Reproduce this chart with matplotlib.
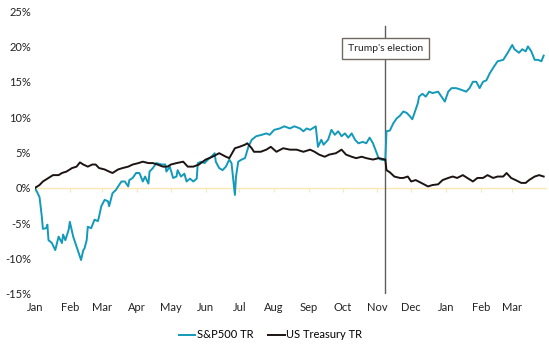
import matplotlib
matplotlib.use("Agg")
import matplotlib.pyplot as plt
import matplotlib.dates as mdates
import pandas as pd

# ---- data ----
spx_dates = [
    "2016-01-01", "2016-01-05", "2016-01-07", "2016-01-08", "2016-01-11", "2016-01-12", "2016-01-13",
    "2016-01-16", "2016-01-19", "2016-01-22", "2016-01-25", "2016-01-26", "2016-01-28", "2016-01-31",
    "2016-02-01", "2016-02-03", "2016-02-04", "2016-02-07", "2016-02-09", "2016-02-11", "2016-02-13",
    "2016-02-14", "2016-02-16", "2016-02-17", "2016-02-20", "2016-02-23", "2016-02-26", "2016-02-27",
    "2016-02-29", "2016-03-03", "2016-03-06", "2016-03-07", "2016-03-10", "2016-03-13", "2016-03-15",
    "2016-03-18", "2016-03-21", "2016-03-24", "2016-03-25", "2016-03-28", "2016-03-31", "2016-04-03",
    "2016-04-06", "2016-04-08", "2016-04-11", "2016-04-12", "2016-04-15", "2016-04-18", "2016-04-23",
    "2016-04-26", "2016-04-27", "2016-04-30", "2016-05-03", "2016-05-06", "2016-05-07", "2016-05-10",
    "2016-05-13", "2016-05-15", "2016-05-18", "2016-05-21", "2016-05-24", "2016-05-25", "2016-05-28",
    "2016-05-31", "2016-06-03", "2016-06-06", "2016-06-09", "2016-06-10", "2016-06-13", "2016-06-16",
    "2016-06-19", "2016-06-22", "2016-06-24", "2016-06-27", "2016-06-28", "2016-06-30", "2016-07-03",
    "2016-07-06", "2016-07-09", "2016-07-12", "2016-07-16", "2016-07-21", "2016-07-25", "2016-07-28",
    "2016-08-01", "2016-08-06", "2016-08-10", "2016-08-15", "2016-08-19", "2016-08-24", "2016-08-27",
    "2016-08-30", "2016-09-02", "2016-09-04", "2016-09-07", "2016-09-09", "2016-09-12", "2016-09-14",
    "2016-09-18", "2016-09-21", "2016-09-24", "2016-09-27", "2016-09-30", "2016-10-03", "2016-10-06",
    "2016-10-09", "2016-10-12", "2016-10-15", "2016-10-19", "2016-10-22", "2016-10-25", "2016-10-28",
    "2016-11-02", "2016-11-04", "2016-11-08", "2016-11-09", "2016-11-12", "2016-11-15", "2016-11-18",
    "2016-11-21", "2016-11-24", "2016-11-27", "2016-11-30", "2016-12-02", "2016-12-04", "2016-12-07",
    "2016-12-08", "2016-12-11", "2016-12-14", "2016-12-17", "2016-12-20", "2016-12-25", "2016-12-28",
    "2016-12-31", "2017-01-03", "2017-01-06", "2017-01-10", "2017-01-14", "2017-01-19", "2017-01-22",
    "2017-01-25", "2017-01-28", "2017-01-31", "2017-02-03", "2017-02-06", "2017-02-09", "2017-02-13",
    "2017-02-16", "2017-02-21", "2017-02-25", "2017-03-01", "2017-03-03", "2017-03-07", "2017-03-10",
    "2017-03-13", "2017-03-15", "2017-03-18", "2017-03-21", "2017-03-24", "2017-03-27", "2017-03-29",
]
spx_values = [
    0.0, -1.3, -4.0, -5.8, -5.7, -5.2, -7.4,
    -7.8, -8.8, -6.9, -7.8, -6.6, -7.4, -5.9,
    -4.8, -6.2, -6.9, -8.3, -9.2, -10.2, -8.8,
    -8.6, -7.4, -5.5, -5.7, -4.5, -4.7, -4.1,
    -2.6, -1.7, -1.9, -2.6, -0.75, -0.3, 0.2,
    0.9, 0.9, 0.2, 1.1, 1.4, 2.1, 2.1,
    0.9, 1.6, 0.6, 2.3, 2.8, 3.5, 3.3,
    3.3, 2.3, 3.0, 1.4, 1.6, 2.5, 1.6,
    2.0, 0.9, 1.3, 0.9, 1.3, 3.5, 3.7,
    3.5, 4.0, 4.4, 4.9, 3.7, 2.8, 2.5,
    3.0, 4.0, 3.5, -1.0, 1.6, 3.7, 4.0,
    4.2, 5.8, 6.8, 7.3, 7.5, 7.7, 7.5,
    8.2, 8.4, 8.7, 8.4, 8.7, 8.4, 8.0,
    8.4, 8.2, 8.4, 8.7, 5.8, 6.8, 6.1,
    6.8, 8.2, 7.5, 8.0, 7.3, 7.7, 7.1,
    7.7, 6.8, 6.3, 6.5, 6.3, 7.1, 6.3,
    4.2, 4.0, 3.9, 8.0, 8.1, 9.1, 9.8,
    10.2, 10.8, 10.6, 10.1, 9.7, 10.6, 12.0,
    12.9, 13.3, 12.9, 13.6, 13.4, 13.6, 12.9,
    12.2, 13.6, 14.1, 14.1, 13.9, 13.6, 14.1,
    15.0, 15.0, 14.1, 15.0, 15.2, 16.2, 17.2,
    17.9, 18.1, 19.1, 20.2, 19.6, 19.1, 19.6,
    19.3, 20.0, 19.3, 18.1, 18.1, 17.9, 18.7,
]

ust_dates = [
    "2016-01-01", "2016-01-05", "2016-01-08", "2016-01-13", "2016-01-17", "2016-01-22", "2016-01-25",
    "2016-01-29", "2016-02-03", "2016-02-07", "2016-02-10", "2016-02-13", "2016-02-17", "2016-02-21",
    "2016-02-24", "2016-02-27", "2016-03-03", "2016-03-07", "2016-03-10", "2016-03-15", "2016-03-19",
    "2016-03-24", "2016-03-28", "2016-04-02", "2016-04-06", "2016-04-11", "2016-04-15", "2016-04-19",
    "2016-04-24", "2016-04-28", "2016-05-01", "2016-05-06", "2016-05-12", "2016-05-16", "2016-05-21",
    "2016-05-26", "2016-06-01", "2016-06-07", "2016-06-13", "2016-06-19", "2016-06-22", "2016-06-27",
    "2016-07-01", "2016-07-06", "2016-07-08", "2016-07-12", "2016-07-14", "2016-07-20", "2016-07-25",
    "2016-07-29", "2016-08-03", "2016-08-09", "2016-08-15", "2016-08-21", "2016-08-27", "2016-09-02",
    "2016-09-06", "2016-09-10", "2016-09-15", "2016-09-19", "2016-09-25", "2016-09-30", "2016-10-04",
    "2016-10-09", "2016-10-13", "2016-10-18", "2016-10-22", "2016-10-28", "2016-11-02", "2016-11-08",
    "2016-11-09", "2016-11-12", "2016-11-16", "2016-11-21", "2016-11-24", "2016-11-28", "2016-12-01",
    "2016-12-05", "2016-12-10", "2016-12-16", "2016-12-20", "2016-12-25", "2016-12-29", "2017-01-03",
    "2017-01-07", "2017-01-11", "2017-01-16", "2017-01-20", "2017-01-25", "2017-01-29", "2017-02-03",
    "2017-02-07", "2017-02-12", "2017-02-16", "2017-02-21", "2017-02-24", "2017-02-28", "2017-03-04",
    "2017-03-09", "2017-03-13", "2017-03-16", "2017-03-21", "2017-03-25", "2017-03-29",
]
ust_values = [
    0.0, 0.4, 0.9, 1.4, 1.8, 1.8, 2.1,
    2.3, 2.8, 3.0, 3.6, 3.3, 3.0, 3.3,
    3.3, 2.8, 2.6, 2.3, 2.1, 2.6, 2.8,
    3.0, 3.3, 3.5, 3.7, 3.5, 3.5, 3.3,
    3.0, 3.0, 3.3, 3.5, 3.7, 3.0, 3.0,
    3.3, 4.0, 4.4, 4.9, 4.4, 4.2, 5.6,
    5.8, 6.1, 6.3, 5.6, 5.1, 5.1, 5.4,
    5.8, 5.1, 5.6, 5.4, 5.4, 5.1, 5.4,
    5.1, 4.7, 4.4, 4.7, 4.9, 5.4, 4.7,
    4.4, 4.2, 4.4, 4.2, 4.0, 4.2, 4.0,
    2.5, 2.2, 1.6, 1.4, 1.4, 1.6, 0.9,
    1.1, 0.7, 0.2, 0.4, 0.5, 1.1, 1.4,
    1.6, 1.4, 1.8, 1.4, 0.9, 1.4, 1.4,
    1.8, 1.4, 1.6, 1.6, 2.1, 1.4, 1.1,
    0.7, 0.7, 1.1, 1.6, 1.8, 1.6,
]

series_labels = ["S&P500 TR", "US Treasury TR"]
election_date = "2016-11-08"
election_label = "Trump's election"
y_ticks = [-15, -10, -5, 0, 5, 10, 15, 20, 25]
month_ticks = pd.date_range("2016-01-01", "2017-03-01", freq="MS")

# ---- plot ----
plt.rcParams["font.family"] = ["Lato", "DejaVu Sans"]
fig = plt.figure(figsize=(5.49, 3.45), dpi=100)
ax = fig.add_axes([0.0638, 0.148, 0.9326, 0.820])

teal = "#1399b9"
black = "#1c1412"

ax.axhline(0, color="#fbe6b4", lw=1.0, zorder=1)
ax.plot(pd.to_datetime(spx_dates), spx_values, color=teal, lw=1.4,
        label=series_labels[0], zorder=3)
ax.plot(pd.to_datetime(ust_dates), ust_values, color=black, lw=1.4,
        label=series_labels[1], zorder=4)

ed = pd.Timestamp(election_date)
ax.axvline(ed, ymin=0, ymax=0.947, color="#5e5e5e", lw=1.0, zorder=2)
ax.text(ed, 19.7, election_label, ha="center", va="center", fontsize=7.5,
        color="#222222", zorder=6,
        bbox=dict(boxstyle="square,pad=0.6", fc="white", ec="#6f6a62", lw=1.0))

ax.set_ylim(-15, 25)
ax.set_xlim(pd.Timestamp("2016-01-01"), pd.Timestamp("2017-04-01"))
ax.set_yticks(y_ticks)
ax.set_yticklabels([f"{v}%" for v in y_ticks])
ax.set_xticks(month_ticks)
ax.xaxis.set_major_formatter(mdates.DateFormatter("%b"))
ax.tick_params(axis="both", length=0, labelsize=8, colors="#222222")
ax.tick_params(axis="x", pad=6)
ax.tick_params(axis="y", pad=3)
for s in ax.spines.values():
    s.set_visible(False)

# small tick marks on the zero line
sec = ax.secondary_xaxis(15 / 40)
sec.set_xticks(month_ticks)
sec.tick_params(axis="x", length=3, width=0.8, color="#fbe6b4", labelbottom=False)
sec.spines["bottom"].set_visible(False)

ax.legend(loc="upper center", bbox_to_anchor=(0.46, -0.09), ncol=2, frameon=False,
          fontsize=8, handlelength=1.5, handletextpad=0.15, columnspacing=1.3)

fig.savefig("out.png", dpi=100, facecolor="white")
